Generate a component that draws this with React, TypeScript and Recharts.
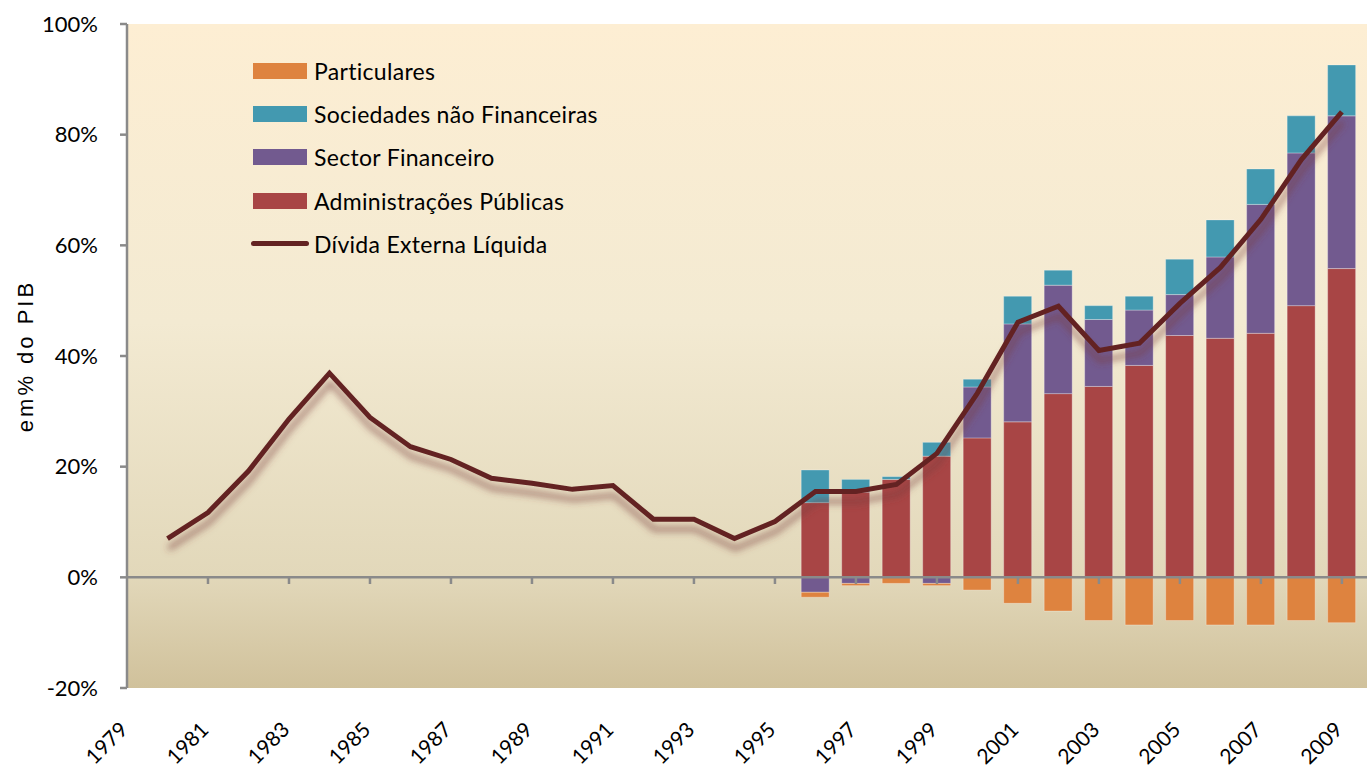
import React from 'react';
import {
  ComposedChart, Bar, Line, XAxis, YAxis, CartesianGrid, ReferenceLine, Legend,
} from 'recharts';

// ---- Data ----
const lineYears = [1980, 1981, 1982, 1983, 1984, 1985, 1986, 1987, 1988, 1989, 1990, 1991, 1992, 1993, 1994,
  1995, 1996, 1997, 1998, 1999, 2000, 2001, 2002, 2003, 2004, 2005, 2006, 2007, 2008, 2009];
const dividaExternaLiquida = [7.0, 11.7, 19.2, 28.6, 36.9, 28.9, 23.6, 21.3, 17.9, 17.0, 15.9, 16.6, 10.5, 10.5, 7.0,
  10.1, 15.5, 15.5, 16.8, 22.4, 33.3, 46.1, 49.0, 41.0, 42.3, 49.5, 56.0, 64.7, 75.5, 84.1];

const barYears = [1996, 1997, 1998, 1999, 2000, 2001, 2002, 2003, 2004, 2005, 2006, 2007, 2008, 2009];
const administracoesPublicas = [13.5, 15.4, 17.7, 21.9, 25.2, 28.1, 33.2, 34.5, 38.3, 43.7, 43.2, 44.1, 49.1, 55.8];
const sectorFinanceiro = [-2.7, -1.1, 0, -1.1, 9.2, 17.7, 19.6, 12.1, 10.0, 7.4, 14.7, 23.3, 27.6, 27.6];
const sociedadesNaoFinanceiras = [5.9, 2.3, 0.5, 2.5, 1.4, 5.0, 2.7, 2.5, 2.5, 6.4, 6.7, 6.4, 6.7, 9.2];
const particulares = [-0.9, -0.4, -1.1, -0.4, -2.3, -4.7, -6.1, -7.8, -8.6, -7.8, -8.6, -8.6, -7.8, -8.2];

const xTicks = [1979, 1981, 1983, 1985, 1987, 1989, 1991, 1993, 1995, 1997, 1999, 2001, 2003, 2005, 2007, 2009];
const yTicks = [-20, 0, 20, 40, 60, 80, 100];

const seriesNames = ['Particulares', 'Sociedades não Financeiras', 'Sector Financeiro', 'Administrações Públicas', 'Dívida Externa Líquida'];
const yAxisTitle = 'em% do PIB';

// ---- Styles ----
const COLORS = {
  particulares: '#DE833F',
  sociedades: '#4399B0',
  financeiro: '#725A8F',
  admin: '#A84545',
  divida: '#632322',
};
const legendColors = [COLORS.particulares, COLORS.sociedades, COLORS.financeiro, COLORS.admin, COLORS.divida];
const AXIS_GRAY = '#8A8A8A';
const FONT = 'Lato, "Open Sans", sans-serif';

const data = lineYears.map((year, i) => {
  const bi = barYears.indexOf(year);
  return {
    year,
    divida: dividaExternaLiquida[i],
    admin: bi >= 0 ? administracoesPublicas[bi] : undefined,
    financeiro: bi >= 0 ? sectorFinanceiro[bi] : undefined,
    sociedades: bi >= 0 ? sociedadesNaoFinanceiras[bi] : undefined,
    particulares: bi >= 0 ? particulares[bi] : undefined,
  };
});

const XTick = (props: any) => {
  const { x, y, payload } = props;
  const ax = x + 2;
  const ay = y + 43;
  return (
    <text x={ax} y={ay} transform={`rotate(-45 ${ax} ${ay})`} textAnchor="end"
      fontSize={21} fontFamily={FONT} fill="#000">
      {payload.value}
    </text>
  );
};

const LegendContent = () => (
  <div style={{ fontFamily: FONT, fontSize: 23, letterSpacing: 0.3, color: '#000' }}>
    {seriesNames.map((name, i) => (
      <div key={name} style={{ display: 'flex', alignItems: 'center', height: 43.3 }}>
        {i < 4 ? (
          <div style={{ width: 54, height: 16, background: legendColors[i], marginLeft: 3, marginRight: 7 }} />
        ) : (
          <div style={{ width: 58, height: 5, borderRadius: 3, background: legendColors[i], marginLeft: 1, marginRight: 5 }} />
        )}
        <span style={{ whiteSpace: 'nowrap' }}>{name}</span>
      </div>
    ))}
  </div>
);

const YTitle = (props: any) => {
  const vb = props.viewBox || { x: 0, y: 24, width: 127, height: 664 };
  const cx = vb.x + 33;
  const cy = vb.y + vb.height / 2;
  return (
    <text x={cx} y={cy} transform={`rotate(-90 ${cx} ${cy})`} textAnchor="middle"
      fontSize={22} fontFamily='"Liberation Sans", Arial, sans-serif' letterSpacing={3} fill="#000">
      {yAxisTitle}
    </text>
  );
};

export default function App() {
  return (
    <div style={{ position: 'absolute', left: 0, top: 0, width: 1367, height: 772, background: '#fff' }}>
      <ComposedChart width={1367} height={772} data={data} stackOffset="sign"
        margin={{ top: 24, right: 0, bottom: 0, left: 0 }}>
        <defs>
          <linearGradient id="bgGrad" x1="0" y1="0" x2="0" y2="1">
            <stop offset="0%" stopColor="#FDEED3" />
            <stop offset="45%" stopColor="#F3EAD2" />
            <stop offset="83%" stopColor="#E2D8BA" />
            <stop offset="100%" stopColor="#D0C19B" />
          </linearGradient>
          <filter id="lineShadow" x="-10%" y="-10%" width="120%" height="130%">
            <feDropShadow dx="1" dy="10" stdDeviation="3.5" floodColor="#7A3A3A" floodOpacity="0.6" />
          </filter>
        </defs>
        <CartesianGrid horizontal={false} vertical={false} fill="url(#bgGrad)" stroke="none" />
        <XAxis dataKey="year" type="number" domain={[1979, 2009.62]} allowDataOverflow
          ticks={xTicks} interval={0} axisLine={false} tickLine={false} tickSize={0} tickMargin={0}
          height={84} tick={<XTick />} />
        <YAxis type="number" domain={[-20, 100]} ticks={yTicks} interval={0} width={127}
          allowDataOverflow
          tickFormatter={(v: number) => `${v}%`}
          axisLine={{ stroke: AXIS_GRAY, strokeWidth: 2.5 }}
          tickLine={{ stroke: AXIS_GRAY, strokeWidth: 2.5 }} tickSize={7} tickMargin={22}
          tick={{ fill: '#000', fontSize: 22, fontFamily: FONT }}
          label={{ content: <YTitle /> }} />
        <Legend layout="vertical" align="center" verticalAlign="middle"
          wrapperStyle={{ left: 250, top: 49, width: 420 }} content={<LegendContent />} />
        <Bar dataKey="admin" name={seriesNames[3]} stackId="s" fill={COLORS.admin} barSize={28}
          stroke="rgba(255,255,255,0.3)" strokeWidth={1} isAnimationActive={false} />
        <Bar dataKey="financeiro" name={seriesNames[2]} stackId="s" fill={COLORS.financeiro} barSize={28}
          stroke="rgba(255,255,255,0.3)" strokeWidth={1} isAnimationActive={false} />
        <Bar dataKey="sociedades" name={seriesNames[1]} stackId="s" fill={COLORS.sociedades} barSize={28}
          stroke="rgba(255,255,255,0.3)" strokeWidth={1} isAnimationActive={false} />
        <Bar dataKey="particulares" name={seriesNames[0]} stackId="s" fill={COLORS.particulares} barSize={28}
          stroke="rgba(255,255,255,0.3)" strokeWidth={1} isAnimationActive={false} />
        <ReferenceLine y={0} stroke={AXIS_GRAY} strokeWidth={2.5} />
        {xTicks.slice(1).map((yr) => (
          <ReferenceLine key={yr} segment={[{ x: yr, y: 0 }, { x: yr, y: -1.2 }]} stroke={AXIS_GRAY} strokeWidth={2.5} />
        ))}
        <Line dataKey="divida" name={seriesNames[4]} type="linear" stroke={COLORS.divida} strokeWidth={5}
          dot={false} activeDot={false} isAnimationActive={false} style={{ filter: 'url(#lineShadow)' }} />
      </ComposedChart>
    </div>
  );
}
